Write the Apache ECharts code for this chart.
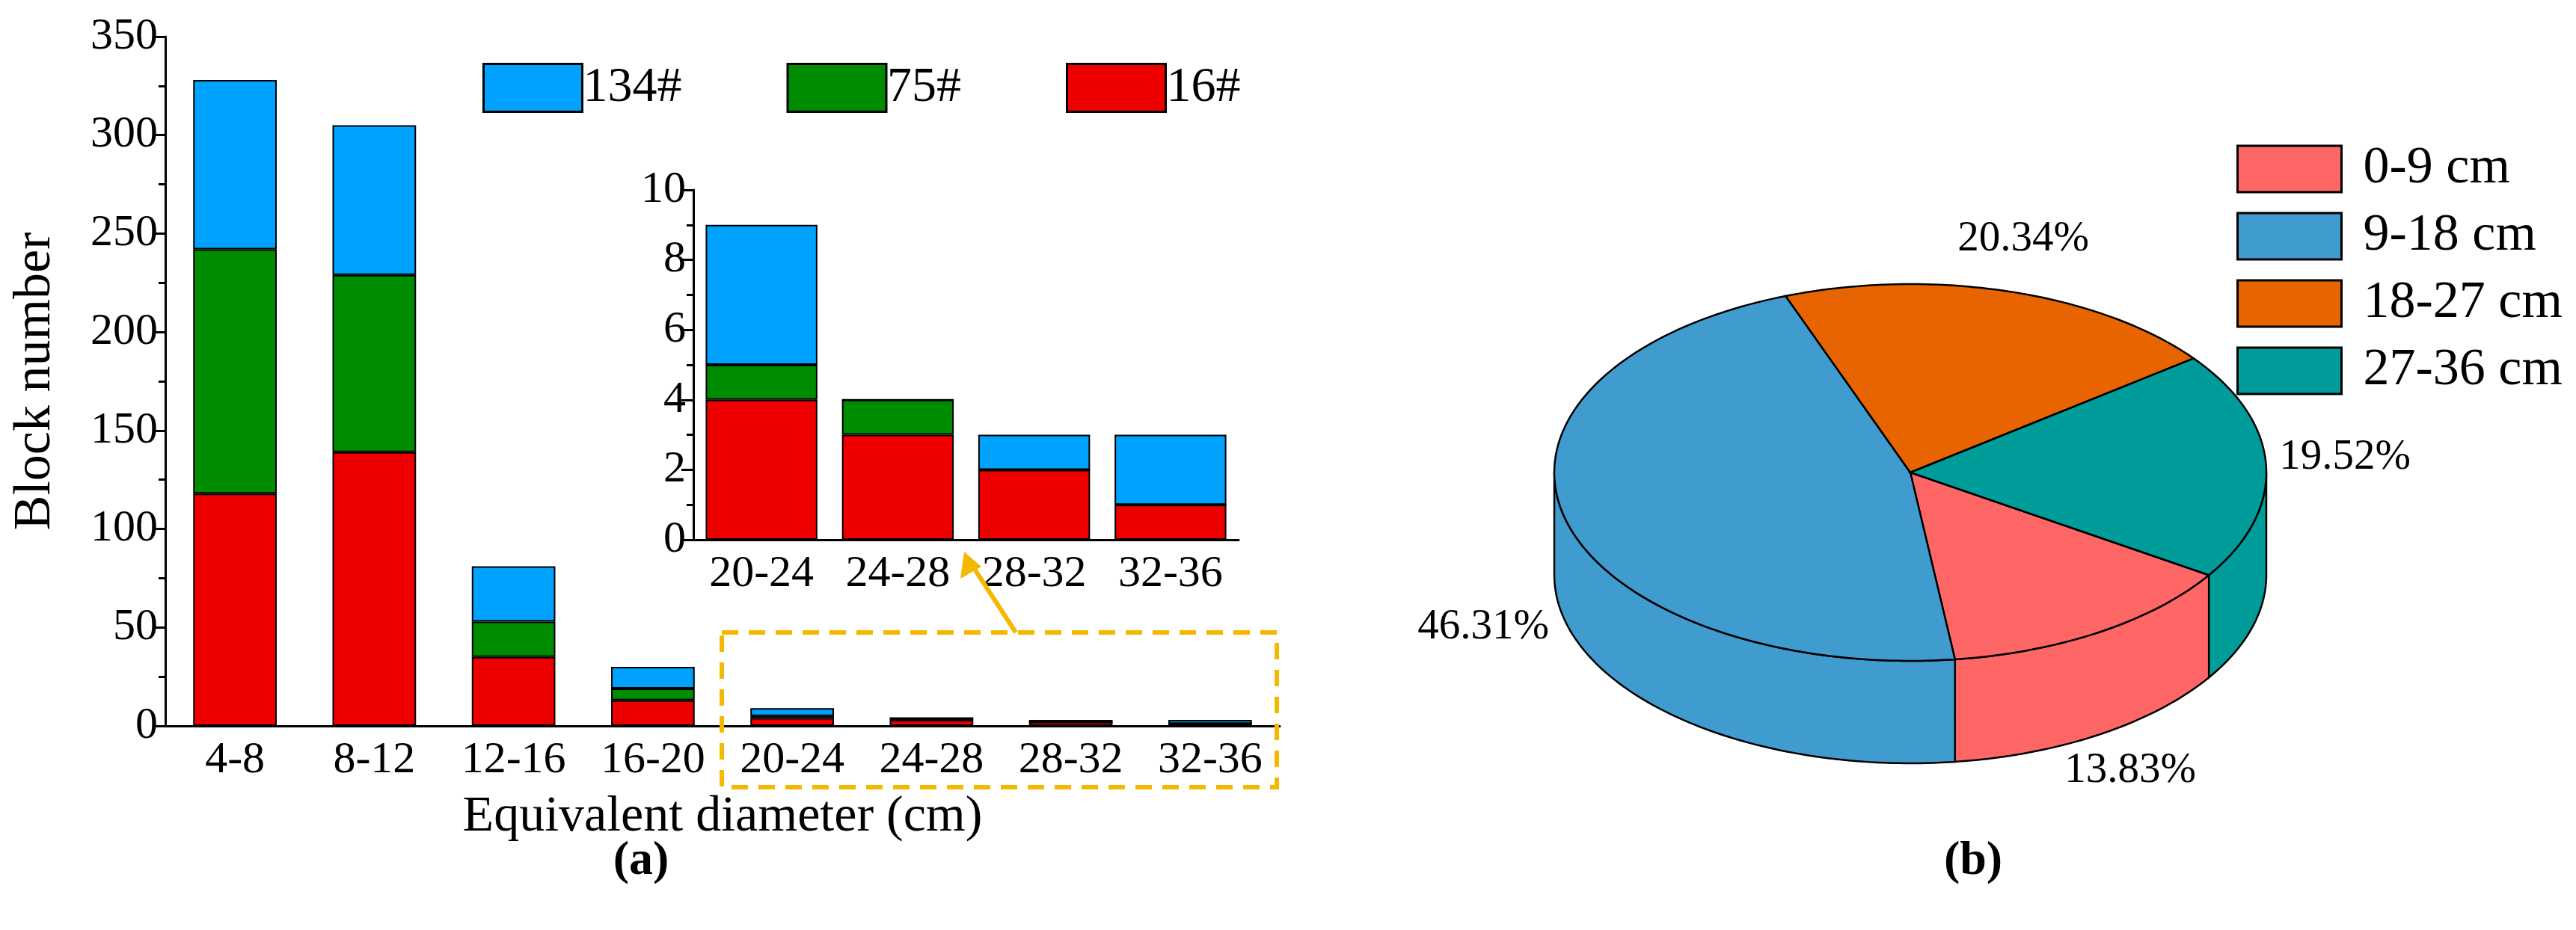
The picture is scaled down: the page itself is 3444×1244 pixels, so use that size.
<!DOCTYPE html>
<html>
<head>
<meta charset="utf-8">
<script src="https://cdn.jsdelivr.net/npm/echarts@6/dist/echarts.min.js"></script>
<style>html,body{margin:0;padding:0;background:#fff}#main{width:3444px;height:1244px}</style>
</head>
<body>
<div id="main"></div>
<script>
// ---- data ----
var categories = ['4-8', '8-12', '12-16', '16-20', '20-24', '24-28', '28-32', '32-36'];
var s16 = [118, 139, 35, 13, 4, 3, 2, 1];
var s75 = [124, 90, 18, 6, 1, 1, 0, 0];
var s134 = [86, 76, 28, 11, 4, 0, 1, 2];
var insetCategories = ['20-24', '24-28', '28-32', '32-36'];
var inset16 = [4, 3, 2, 1];
var inset75 = [1, 1, 0, 0];
var inset134 = [4, 0, 1, 2];
var pieNames = ['0-9 cm', '9-18 cm', '18-27 cm', '27-36 cm'];
var pieValues = [13.83, 46.31, 20.34, 19.52];
var pieLabelPos = [[2848, 1031], [1983, 839], [2705, 320], [3135, 612]];

var FONT = 'Liberation Serif';
var barColors = {'134#': '#00a2ff', '75#': '#008c00', '16#': '#ee0000'};
var pieColors = ['#ff6666', '#409bcf', '#e86400', '#009c9a'];

// pie geometry
var cx = 2554, cy = 632, rx = 476, ry = 252, thick = 137;
var T0 = 33 * Math.PI / 180;

function pt(t, dy) {
    return [cx + rx * Math.cos(t), cy + ry * Math.sin(t) + (dy || 0)];
}
function arc(a, b, dy) {
    var pts = [], n = Math.max(2, Math.ceil((b - a) / 0.02));
    for (var i = 0; i <= n; i++) pts.push(pt(a + (b - a) * i / n, dy));
    return pts;
}

var chart = echarts.init(document.getElementById('main'));

function barSeries(name, data, x, y) {
    return {
        name: name, type: 'bar', stack: 's' + x, data: data,
        xAxisIndex: x, yAxisIndex: y, barWidth: x === 0 ? '60%' : '82%',
        itemStyle: {color: barColors[name], borderColor: '#000', borderWidth: 2}
    };
}

var pieSeries = [];
var cum = 0;
pieValues.forEach(function (v, i) {
    var start = cum;
    cum += v;
    pieSeries.push({
        name: pieNames[i], type: 'custom', coordinateSystem: 'none',
        color: pieColors[i],
        itemStyle: {color: pieColors[i], borderColor: '#000', borderWidth: 2},
        data: [[start, v]],
        renderItem: function (params, api) {
            var a0 = T0 + api.value(0) / 100 * 2 * Math.PI;
            var a1 = a0 + api.value(1) / 100 * 2 * Math.PI;
            var style = {fill: pieColors[i], stroke: '#000', lineWidth: 2.5};
            var children = [];
            [0, 2 * Math.PI].forEach(function (k) {
                var lo = Math.max(a0, k), hi = Math.min(a1, k + Math.PI);
                if (lo < hi) {
                    var pts = arc(lo, hi, 0).concat(arc(lo, hi, thick).reverse());
                    children.push({type: 'polygon', shape: {points: pts}, style: style});
                }
            });
            children.push({type: 'polygon', shape: {points: [[cx, cy]].concat(arc(a0, a1, 0))}, style: style});
            return {type: 'group', children: children};
        }
    });
});

var graphics = [
    {type: 'rect', shape: {x: 965, y: 846, width: 742, height: 207},
        style: {fill: 'none', stroke: '#f5b800', lineWidth: 6, lineDash: [22, 14]}, z: 10},
    {type: 'line', shape: {x1: 1358, y1: 846, x2: 1297, y2: 752},
        style: {stroke: '#f5b800', lineWidth: 6}, z: 10},
    {type: 'polygon', shape: {points: [[1289, 738], [1284, 774], [1312, 758]]},
        style: {fill: '#f5b800'}, z: 10},
    {type: 'text', x: 857, y: 1152, style: {text: '(a)', font: 'bold 64px ' + FONT, fill: '#000', align: 'center', verticalAlign: 'middle'}},
    {type: 'text', x: 2638, y: 1152, style: {text: '(b)', font: 'bold 64px ' + FONT, fill: '#000', align: 'center', verticalAlign: 'middle'}}
];
pieValues.forEach(function (v, i) {
    graphics.push({type: 'text', x: pieLabelPos[i][0], y: pieLabelPos[i][1], z: 20,
        style: {text: v.toFixed(2) + '%', font: '57px ' + FONT, fill: '#000', align: 'center', verticalAlign: 'middle'}});
});

var axisText = {fontFamily: FONT, fontSize: 60, color: '#000', interval: 0};
var axisLine = {show: true, lineStyle: {color: '#000', width: 3}};

var option = {
    animation: false,
    textStyle: {fontFamily: FONT},
    legend: [{
        data: ['134#', '75#', '16#'], left: 640, top: 79, itemWidth: 132, itemHeight: 64, itemGap: 140,
        icon: 'rect', itemStyle: {borderColor: '#000', borderWidth: 3},
        textStyle: {fontFamily: FONT, fontSize: 66, color: '#000', padding: [0, 0, 0, -4]}
    }, {
        data: pieNames, left: 2985, top: 186, orient: 'vertical', itemWidth: 139, itemHeight: 62, itemGap: 20,
        icon: 'rect', itemStyle: {borderColor: '#000', borderWidth: 3},
        textStyle: {fontFamily: FONT, fontSize: 70, color: '#000', padding: [0, 0, 0, 24]}
    }],
    grid: [
        {left: 221, top: 49, width: 1490, height: 922},
        {left: 927, top: 254, width: 729, height: 468}
    ],
    xAxis: [{
        type: 'category', data: categories, gridIndex: 0,
        axisLine: axisLine, axisTick: {alignWithLabel: true, length: 14, lineStyle: {width: 3}},
        axisLabel: Object.assign({margin: 16}, axisText),
        name: 'Equivalent diameter (cm)', nameLocation: 'middle', nameGap: 88,
        nameTextStyle: {fontFamily: FONT, fontSize: 68, color: '#000'}
    }, {
        type: 'category', data: insetCategories, gridIndex: 1,
        axisLine: axisLine, axisTick: {alignWithLabel: false, length: 14, lineStyle: {width: 3}},
        axisLabel: Object.assign({margin: 16}, axisText)
    }],
    yAxis: [{
        type: 'value', gridIndex: 0, min: 0, max: 350, interval: 50,
        axisLine: axisLine, axisTick: {show: true, length: 16, lineStyle: {width: 3}},
        minorTick: {show: true, splitNumber: 2, length: 9, lineStyle: {color: '#000', width: 3}},
        splitLine: {show: false}, axisLabel: Object.assign({margin: 10}, axisText),
        name: 'Block number', nameLocation: 'middle', nameGap: 138,
        nameTextStyle: {fontFamily: FONT, fontSize: 70, color: '#000'}
    }, {
        type: 'value', gridIndex: 1, min: 0, max: 10, interval: 2,
        axisLine: axisLine, axisTick: {show: true, length: 16, lineStyle: {width: 3}},
        minorTick: {show: true, splitNumber: 2, length: 9, lineStyle: {color: '#000', width: 3}},
        splitLine: {show: false}, axisLabel: Object.assign({margin: 10}, axisText)
    }],
    series: [
        barSeries('16#', s16, 0, 0),
        barSeries('75#', s75, 0, 0),
        barSeries('134#', s134, 0, 0),
        barSeries('16#', inset16, 1, 1),
        barSeries('75#', inset75, 1, 1),
        barSeries('134#', inset134, 1, 1)
    ].concat(pieSeries),
    graphic: graphics
};
chart.setOption(option);
</script>
</body>
</html>
